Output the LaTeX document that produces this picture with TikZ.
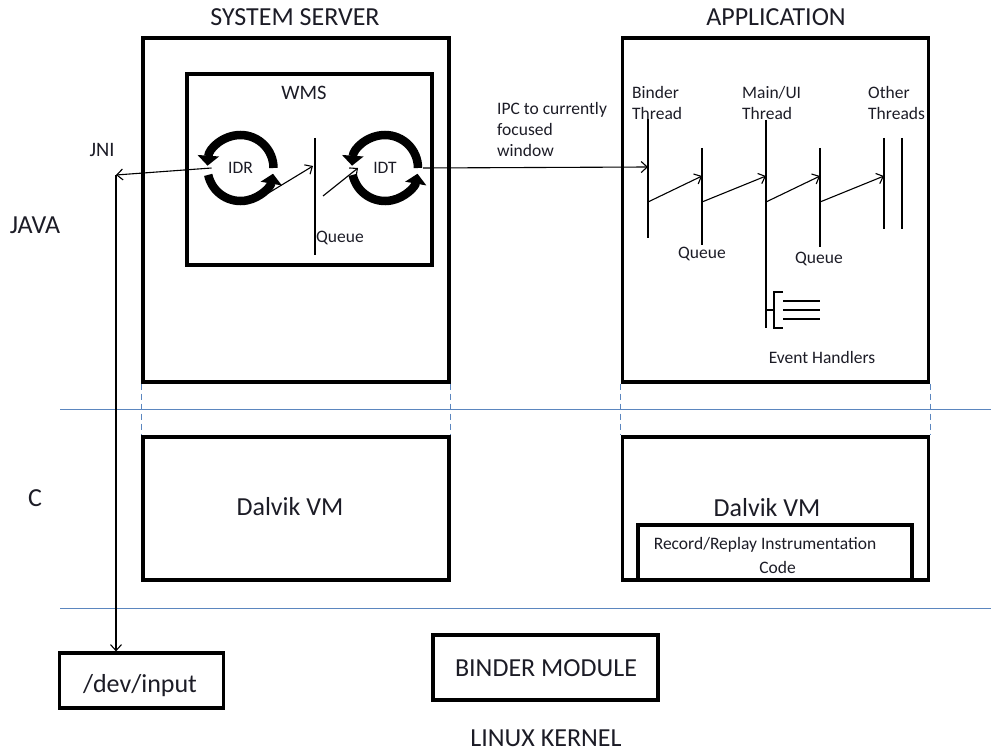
\documentclass[tikz,border=0pt]{standalone}
\usepackage{fontspec}
\setmainfont{Carlito}
\usetikzlibrary{arrows.meta}
\definecolor{ink}{HTML}{1C1C26}
\definecolor{sep}{HTML}{5B86BF}

\begin{document}
\begin{tikzpicture}[x=1pt,y=-1pt,
  box/.style={draw=black, line width=3.2pt, inner sep=0pt},
  big/.style={font=\fontsize{26}{31}\selectfont, text=ink, inner sep=0pt},
  mid/.style={font=\fontsize{20.5}{24}\selectfont, text=ink, inner sep=0pt},
  small/.style={font=\fontsize{17.5}{21}\selectfont, text=ink, inner sep=0pt},
  arr/.style={-{Straight Barb[length=6pt,width=11pt]}, line width=1.1pt},
  thin/.style={line width=1.1pt},
  loop/.style={line width=8.5pt, -{Triangle[length=10pt,width=21pt]}},
  layer/.style={draw=sep, line width=1pt},
  guide/.style={draw=sep, line width=1pt, dash pattern=on 6pt off 4pt}]
\useasboundingbox (0,0) rectangle (991,754);

% --- layer separators and layer names
\draw[layer] (60,409) -- (991,409);
\draw[layer] (60,608) -- (991,608);
\node[big] (java) at (35,225) {JAVA};
\node[big] (clayer) at (35,498) {C};
\node[big] (kernel) at (546,738) {LINUX KERNEL};

% --- process boxes
\node[big] (sstitle) at (295,17) {SYSTEM SERVER};
\node[big] (apptitle) at (776,17) {APPLICATION};
\node[box, minimum width=306pt, minimum height=344pt] (ss) at (296,210) {};
\node[box, minimum width=306pt, minimum height=344pt] (app) at (775.5,210) {};
\node[box, minimum width=245pt, minimum height=191pt] (wms) at (309.5,169.5) {};
\node[mid] (wmslabel) at (304,93) {WMS};

% --- Dalvik VM boxes
\node[box, minimum width=306pt, minimum height=143pt] (dvl) at (296,508.5) {};
\node[big] (dvltext) at (290,507) {Dalvik VM};
\node[box, minimum width=306pt, minimum height=143pt] (dvr) at (775.5,508.5) {};
\node[big] (dvrtext) at (767,508) {Dalvik VM};
\node[box, minimum width=274pt, minimum height=55pt] (instr) at (775,552.5) {};
\node[small] (instrtext) at (765,545) {Record/Replay Instrumentation};
\node[small] (codetext) at (777.5,567) {Code};

% --- dashed guides between Java and C parts
\draw[guide] (ss.south west) -- (dvl.north west);
\draw[guide] (ss.south east) -- (dvl.north east);
\draw[guide] (app.south west) -- (dvr.north west);
\draw[guide] (app.south east) -- (dvr.north east);

% --- kernel boxes
\node[box, minimum width=164pt, minimum height=55pt] (dev) at (141.5,680.5) {};
\node[big] (devtext) at (140,686) {/dev/input};
\node[box, minimum width=225pt, minimum height=65pt] (binder) at (545.5,667.5) {};
\node[big] (bindertext) at (546,668) {BINDER MODULE};

% --- IDR / IDT loops
\node[small] (idr) at (240.5,168) {IDR};
\node[small] (idt) at (385,168) {IDT};
\foreach \c in {idr,idt}{
  \draw[loop] ([shift={(0:33)}]\c.center) arc[start angle=0, end angle=-176, radius=33];
  \draw[loop] ([shift={(-192:33)}]\c.center) arc[start angle=-192, end angle=-350, radius=33];
}

% --- WMS queue
\coordinate (wqtop) at (315,138);
\coordinate (wqbot) at (315,255);
\coordinate (wqin) at (313,166);
\coordinate (wqout) at (323,196);
\draw[thin] (wqtop) -- (wqbot);
\node[small, anchor=west] (wqlabel) at (316,238) {Queue};
\draw[arr] ([shift={(28,25)}]idr.center) -- (wqin);
\draw[arr] (wqout) -- ([shift={(-27,0)}]idt.center);

% --- JNI path to /dev/input
\node[mid] (jni) at (102,150) {JNI};
\coordinate (jnic) at (116,175);
\draw[arr] ([xshift=-29pt]idr.center) -- (jnic);
\draw[arr] (jnic) -- (jnic |- dev.north);

% --- IPC to the binder thread
\node[small, anchor=north west, align=left] (ipc) at (497,102) {IPC to currently\\focused\\window};
\coordinate (bt) at (648,119);
\coordinate (bb) at (648,238);
\coordinate (bin) at (648,167);
\draw[thin] (bt) -- (bb);
\draw[arr] ([xshift=38pt]idt.center) -- (bin);

% --- application threads and queues
\node[small, anchor=west, align=left] (bl) at (632,103) {Binder\\Thread};
\node[small, anchor=west, align=left] (ml) at (742,103) {Main/UI\\Thread};
\node[small, anchor=west, align=left] (ol) at (868,103) {Other\\Threads};

\coordinate (q1t) at (702,148);  \coordinate (q1b) at (702,245);
\coordinate (mt) at (766,120);   \coordinate (mb) at (766,328);
\coordinate (q2t) at (820,148);  \coordinate (q2b) at (820,247);
\coordinate (o1t) at (884,138);  \coordinate (o1b) at (884,229);
\coordinate (o2t) at (902,138);  \coordinate (o2b) at (902,229);
\draw[thin] (q1t) -- (q1b);
\draw[thin] (mt) -- (mb);
\draw[thin] (q2t) -- (q2b);
\draw[thin] (o1t) -- (o1b);
\draw[thin] (o2t) -- (o2b);
\node[small] (q1l) at (702,254) {Queue};
\node[small] (q2l) at (819,259) {Queue};

\coordinate (a1s) at (648,202); \coordinate (a1e) at (702,176);
\coordinate (a2s) at (702,202); \coordinate (a2e) at (766,176);
\coordinate (a3s) at (766,202); \coordinate (a3e) at (820,176);
\coordinate (a4s) at (820,202); \coordinate (a4e) at (884,176);
\draw[arr] (a1s) -- (a1e);
\draw[arr] (a2s) -- (a2e);
\draw[arr] (a3s) -- (a3e);
\draw[arr] (a4s) -- (a4e);

% --- event handlers hanging off the main thread
\coordinate (eh) at (766,310);
\draw[thin] (eh) -- (774,310);
\draw[thin] (783,292) -- (774,292) -- (774,328) -- (783,328);
\draw[thin] (783,301) -- (820,301);
\draw[thin] (783,310) -- (820,310);
\draw[thin] (783,319) -- (820,319);
\node[small] (ehl) at (822,357) {Event Handlers};
\end{tikzpicture}
\end{document}
